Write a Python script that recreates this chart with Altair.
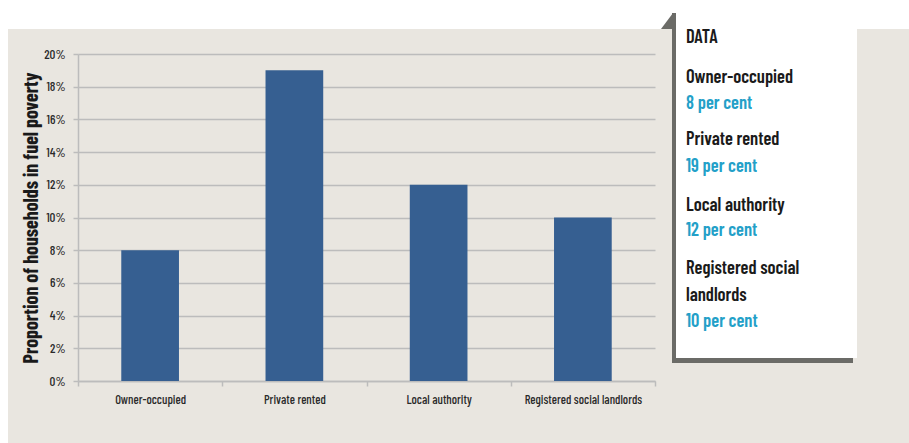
import altair as alt
import pandas as pd

# Share of households in fuel poverty by tenure
categories = ["Owner-occupied", "Private rented", "Local authority", "Registered social landlords"]
shares = [0.08, 0.19, 0.12, 0.10]
y_tick_values = [0.00, 0.02, 0.04, 0.06, 0.08, 0.10, 0.12, 0.14, 0.16, 0.18, 0.20]

# Side panel text: tenure names as they are wrapped in the panel
panel_heading = "DATA"
panel_names = [["Owner-occupied"], ["Private rented"], ["Local authority"], ["Registered social", "landlords"]]

FONT = "Barlow Condensed, Archivo Narrow, Liberation Sans, sans-serif"
BEIGE = "#e9e6e0"
BAR = "#365f91"
GRID = "#bcbcbc"
SHADOW = "#6b6b67"
INK = "#1a1a1a"
CYAN = "#23a0c8"

PLOT_W, PLOT_H = 577, 327
PAD = {"left": 78, "top": 54, "right": 254, "bottom": 62}

df = pd.DataFrame({"tenure": categories, "share": shares})

bars = alt.Chart(df).mark_bar(color=BAR, width={"band": 0.4}).encode(
    x=alt.X(
        "tenure:N",
        sort=categories,
        scale=alt.Scale(paddingInner=0, paddingOuter=0),
        axis=alt.Axis(
            title=None,
            labelAngle=0,
            tickBand="extent",
            tickSize=5,
            tickColor=GRID,
            tickWidth=1.5,
            domainColor=GRID,
            domainWidth=1.5,
            labelFont=FONT,
            labelFontSize=12.5,
            labelFontWeight=500,
            labelColor="#2a2a2a",
            labelPadding=7,
        ),
    ),
    y=alt.Y(
        "share:Q",
        scale=alt.Scale(domain=[0, 0.2], nice=False),
        axis=alt.Axis(
            title="Proportion of households in fuel poverty",
            titleFont=FONT,
            titleFontSize=20,
            titleFontWeight="bold",
            titleColor=INK,
            titlePadding=2,
            values=y_tick_values,
            format=".0%",
            labelFont=FONT,
            labelFontSize=13,
            labelFontWeight=500,
            labelColor="#2a2a2a",
            labelPadding=8,
            tickSize=5,
            tickColor=GRID,
            tickWidth=1.5,
            domainColor=GRID,
            domainWidth=1.5,
            grid=True,
            gridColor=GRID,
            gridWidth=1.5,
        ),
    ),
)

one = alt.Data(values=[{}])


def block(x, x2, y, y2, color):
    return alt.Chart(one).mark_rect(color=color).encode(
        x=alt.value(x), x2=alt.value(x2), y=alt.value(y), y2=alt.value(y2)
    )


# White page margins around the beige card
top_strip = block(-PAD["left"], PLOT_W + PAD["right"], -PAD["top"], -25, "white")
left_strip = block(-PAD["left"], -70, -PAD["top"], PLOT_H + PAD["bottom"], "white")

# Data panel: drop shadow, folded corner and white sheet
shadow_side = block(594, 598, -41, 309, SHADOW)
shadow_base = block(594, 775, 304, 309, SHADOW)
corner = alt.Chart(one).mark_point(
    shape="M0.75,-1 L0.75,1 L-0.75,1 Z", filled=True, color=SHADOW, opacity=1, size=256
).encode(x=alt.value(589), y=alt.value(-33))
sheet = block(598, 779, -PAD["top"], 304, "white")


def line(text, y, color=INK):
    return alt.Chart(one).mark_text(
        text=text, font=FONT, fontSize=18.5, fontWeight=600, color=color,
        align="left", baseline="middle",
    ).encode(x=alt.value(608), y=alt.value(y))


panel_layers = [line(panel_heading, -17)]
name_rows = [[23], [85], [151], [214, 241]]
value_rows = [49, 112, 176, 267]
for names, rows, share, vy in zip(panel_names, name_rows, shares, value_rows):
    for name, ny in zip(names, rows):
        panel_layers.append(line(name, ny))
    panel_layers.append(line(f"{round(share * 100)} per cent", vy, CYAN))

chart = alt.layer(
    top_strip, left_strip, bars, shadow_side, shadow_base, corner, sheet, *panel_layers
).properties(
    width=PLOT_W,
    height=PLOT_H,
    autosize=alt.AutoSizeParams(type="none"),
    padding=PAD,
    background=BEIGE,
).configure_view(stroke=None)

chart.save("out.html", embed_options={"renderer": "svg", "actions": False})
